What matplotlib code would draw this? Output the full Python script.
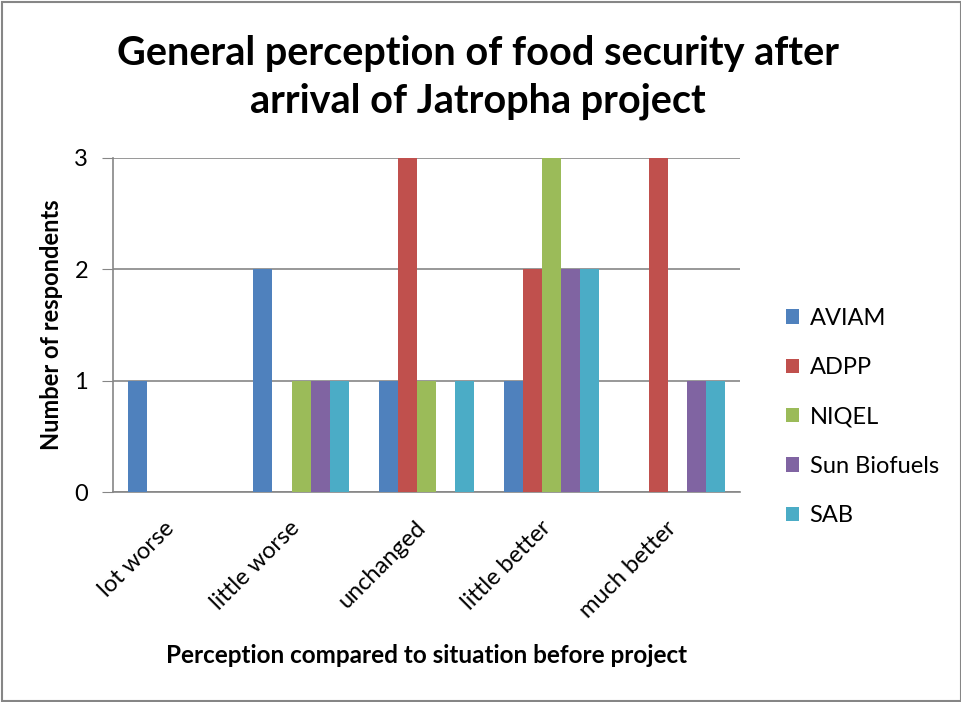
import numpy as np
import matplotlib.pyplot as plt
import matplotlib.transforms as mtransforms
from matplotlib.patches import Rectangle

plt.rcParams['font.family'] = ['Lato', 'DejaVu Sans']

categories = ["lot worse", "little worse", "unchanged", "little better", "much better"]
series_names = ["AVIAM", "ADPP", "NIQEL", "Sun Biofuels", "SAB"]
aviam = [1, 2, 1, 1, 0]
adpp = [0, 0, 3, 2, 3]
niqel = [0, 1, 1, 3, 0]
sun_biofuels = [0, 1, 0, 2, 1]
sab = [0, 1, 1, 2, 1]
y_ticks = [0, 1, 2, 3]

plot_colors = ["#4F81BD", "#C0504D", "#9BBB59", "#8064A2", "#4BACC6"]
series = [aviam, adpp, niqel, sun_biofuels, sab]

fig = plt.figure(figsize=(9.62, 7.02), dpi=100)
# chart frame
fig.patches.append(Rectangle((0.0025, 0.002), 0.996, 0.995, transform=fig.transFigure,
                             fill=False, edgecolor="#868686", linewidth=1.5))

ax = fig.add_axes([0.1175, 0.299, 0.6515, 0.476])
x = np.arange(len(categories))
width = 0.152
for i, (name, vals) in enumerate(zip(series_names, series)):
    ax.bar(x + (i - 2) * width, vals, width, color=plot_colors[i], label=name, zorder=3)

ax.set_xlim(-0.5, len(categories) - 0.5)
ax.set_ylim(0, 3)
ax.set_yticks(y_ticks)
ax.tick_params(axis='y', length=8, color="#868686", labelsize=17, pad=10)
ax.yaxis.grid(True, color="#868686", linewidth=1.2, zorder=0)
ax.set_xticks(x)
ax.set_xticklabels(categories, rotation=45, ha='right', rotation_mode='anchor', fontsize=17)
ax.tick_params(axis='x', length=0, pad=18)
# nudge rotated category labels left
shift = mtransforms.ScaledTranslation(-12 / 100, 0, fig.dpi_scale_trans)
for lbl in ax.get_xticklabels():
    lbl.set_transform(lbl.get_transform() + shift)
for side in ["top", "right"]:
    ax.spines[side].set_visible(False)
for side in ["left", "bottom"]:
    ax.spines[side].set_color("#868686")
    ax.spines[side].set_linewidth(1.2)

ax.set_ylabel("Number of respondents", fontsize=17, fontweight='bold', labelpad=8)
ax.set_xlabel("Perception compared to situation before project", fontsize=17.5,
              fontweight='bold', labelpad=16)
fig.text(0.497, 0.89, "General perception of food security after\narrival of Jatropha project",
         ha='center', va='center', fontsize=28.5, fontweight='bold', linespacing=1.35)

leg = ax.legend(loc='center left', bbox_to_anchor=(1.04, 0.225), frameon=False,
                fontsize=17, handlelength=0.55, handleheight=0.55, labelspacing=1.2,
                handletextpad=0.45)

plt.savefig("out.png", dpi=100)
